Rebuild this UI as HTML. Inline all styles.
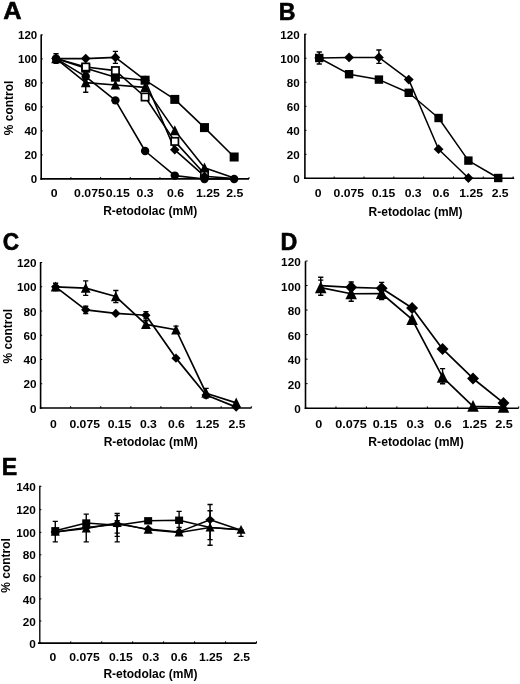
<!DOCTYPE html>
<html><head><meta charset="utf-8"><title>Figure</title>
<style>html,body{margin:0;padding:0;background:#fff}body{width:520px;height:684px;overflow:hidden}svg text{fill:#000}svg{will-change:transform;transform:translateZ(0)}</style>
</head><body>
<svg width="520" height="684" viewBox="0 0 520 684" style="display:block">
<rect width="520" height="684" fill="#fff"/>
<text transform="translate(3.15,19.15) scale(1.06,1)" font-size="24" text-anchor="start" font-family="Liberation Sans, Arial, sans-serif" font-weight="bold" stroke="#000" stroke-width="0.6" stroke-linejoin="round">A</text>
<path d="M41.20,34.40V179.70" stroke="#000" stroke-width="1.6" fill="none"/>
<path d="M40.40,178.90H249.00" stroke="#000" stroke-width="1.6" fill="none"/>
<path d="M70.89,177.10V178.90" stroke="#000" stroke-width="1"/>
<path d="M100.57,177.10V178.90" stroke="#000" stroke-width="1"/>
<path d="M130.26,177.10V178.90" stroke="#000" stroke-width="1"/>
<path d="M159.94,177.10V178.90" stroke="#000" stroke-width="1"/>
<path d="M189.63,177.10V178.90" stroke="#000" stroke-width="1"/>
<path d="M219.31,177.10V178.90" stroke="#000" stroke-width="1"/>
<path d="M249.00,177.10V178.90" stroke="#000" stroke-width="1"/>
<path d="M41.20,178.90H42.80" stroke="#000" stroke-width="1"/>
<text transform="translate(37.20,183.40) scale(1.02,1)" font-size="11.3" text-anchor="end" font-family="Liberation Sans, Arial, sans-serif" font-weight="bold" >0</text>
<path d="M41.20,154.90H42.80" stroke="#000" stroke-width="1"/>
<text transform="translate(37.20,159.40) scale(1.02,1)" font-size="11.3" text-anchor="end" font-family="Liberation Sans, Arial, sans-serif" font-weight="bold" >20</text>
<path d="M41.20,130.90H42.80" stroke="#000" stroke-width="1"/>
<text transform="translate(37.20,135.40) scale(1.02,1)" font-size="11.3" text-anchor="end" font-family="Liberation Sans, Arial, sans-serif" font-weight="bold" >40</text>
<path d="M41.20,106.90H42.80" stroke="#000" stroke-width="1"/>
<text transform="translate(37.20,111.40) scale(1.02,1)" font-size="11.3" text-anchor="end" font-family="Liberation Sans, Arial, sans-serif" font-weight="bold" >60</text>
<path d="M41.20,82.90H42.80" stroke="#000" stroke-width="1"/>
<text transform="translate(37.20,87.40) scale(1.02,1)" font-size="11.3" text-anchor="end" font-family="Liberation Sans, Arial, sans-serif" font-weight="bold" >80</text>
<path d="M41.20,58.90H42.80" stroke="#000" stroke-width="1"/>
<text transform="translate(37.20,63.40) scale(1.02,1)" font-size="11.3" text-anchor="end" font-family="Liberation Sans, Arial, sans-serif" font-weight="bold" >100</text>
<path d="M41.20,34.90H42.80" stroke="#000" stroke-width="1"/>
<text transform="translate(37.20,39.40) scale(1.02,1)" font-size="11.3" text-anchor="end" font-family="Liberation Sans, Arial, sans-serif" font-weight="bold" >120</text>
<text transform="translate(54.04,197.30) scale(1.06,1)" font-size="11.6" text-anchor="middle" font-family="Liberation Sans, Arial, sans-serif" font-weight="bold" >0</text>
<text transform="translate(89.43,197.30) scale(1.06,1)" font-size="11.6" text-anchor="middle" font-family="Liberation Sans, Arial, sans-serif" font-weight="bold" >0.075</text>
<text transform="translate(117.81,197.30) scale(1.06,1)" font-size="11.6" text-anchor="middle" font-family="Liberation Sans, Arial, sans-serif" font-weight="bold" >0.15</text>
<text transform="translate(145.10,197.30) scale(1.06,1)" font-size="11.6" text-anchor="middle" font-family="Liberation Sans, Arial, sans-serif" font-weight="bold" >0.3</text>
<text transform="translate(175.49,197.30) scale(1.06,1)" font-size="11.6" text-anchor="middle" font-family="Liberation Sans, Arial, sans-serif" font-weight="bold" >0.6</text>
<text transform="translate(207.97,197.30) scale(1.06,1)" font-size="11.6" text-anchor="middle" font-family="Liberation Sans, Arial, sans-serif" font-weight="bold" >1.25</text>
<text transform="translate(234.76,197.30) scale(1.06,1)" font-size="11.6" text-anchor="middle" font-family="Liberation Sans, Arial, sans-serif" font-weight="bold" >2.5</text>
<text transform="translate(150.20,215.20)" font-size="12" text-anchor="middle" font-family="Liberation Sans, Arial, sans-serif" font-weight="bold" >R-etodolac (mM)</text>
<text transform="translate(12.80,107.90) rotate(-90)" font-size="12" text-anchor="middle" font-family="Liberation Sans, Arial, sans-serif" font-weight="bold" >% control</text>
<polyline points="56.04,58.60 85.73,68.20 115.41,77.20 145.10,80.20 174.79,99.40 204.47,127.60 234.16,157.00" fill="none" stroke="#000" stroke-width="1.6" stroke-linejoin="round"/>
<polyline points="56.04,58.60 85.73,67.00 115.41,70.60 145.10,97.00 174.79,141.40 204.47,173.80" fill="none" stroke="#000" stroke-width="1.6" stroke-linejoin="round"/>
<polyline points="56.04,58.60 85.73,82.60 115.41,85.00 145.10,87.40 174.79,130.60 204.47,167.80 234.16,178.00" fill="none" stroke="#000" stroke-width="1.6" stroke-linejoin="round"/>
<polyline points="56.04,58.60 85.73,58.60 115.41,57.40 145.10,80.20 174.79,149.80 204.47,176.20 234.16,178.60" fill="none" stroke="#000" stroke-width="1.6" stroke-linejoin="round"/>
<polyline points="56.04,58.60 85.73,76.60 115.41,100.36 145.10,151.00 174.79,175.60 204.47,178.96 234.16,178.96" fill="none" stroke="#000" stroke-width="1.6" stroke-linejoin="round"/>
<path d="M85.73,73.00V92.20M83.13,73.00H88.33M83.13,92.20H88.33" stroke="#000" stroke-width="1.4" fill="none"/>
<path d="M56.04,53.80V63.40M53.44,53.80H58.64M53.44,63.40H58.64" stroke="#000" stroke-width="1.4" fill="none"/>
<path d="M115.41,51.40V63.40M112.81,51.40H118.01M112.81,63.40H118.01" stroke="#000" stroke-width="1.4" fill="none"/>
<rect x="81.23" y="63.70" width="9.00" height="9.00" fill="#000"/>
<rect x="110.91" y="72.70" width="9.00" height="9.00" fill="#000"/>
<rect x="140.60" y="75.70" width="9.00" height="9.00" fill="#000"/>
<rect x="170.29" y="94.90" width="9.00" height="9.00" fill="#000"/>
<rect x="199.97" y="123.10" width="9.00" height="9.00" fill="#000"/>
<rect x="229.66" y="152.50" width="9.00" height="9.00" fill="#000"/>
<rect x="82.08" y="63.35" width="7.30" height="7.30" fill="#fff" stroke="#000" stroke-width="1.7"/>
<rect x="111.76" y="66.95" width="7.30" height="7.30" fill="#fff" stroke="#000" stroke-width="1.7"/>
<rect x="141.45" y="93.35" width="7.30" height="7.30" fill="#fff" stroke="#000" stroke-width="1.7"/>
<rect x="171.14" y="137.75" width="7.30" height="7.30" fill="#fff" stroke="#000" stroke-width="1.7"/>
<rect x="200.82" y="170.15" width="7.30" height="7.30" fill="#fff" stroke="#000" stroke-width="1.7"/>
<polygon points="56.04,53.25 60.90,63.22 51.18,63.22" fill="#000"/>
<polygon points="85.73,77.25 90.59,87.22 80.87,87.22" fill="#000"/>
<polygon points="115.41,79.65 120.27,89.62 110.55,89.62" fill="#000"/>
<polygon points="145.10,82.05 149.96,92.02 140.24,92.02" fill="#000"/>
<polygon points="174.79,125.25 179.65,135.22 169.93,135.22" fill="#000"/>
<polygon points="204.47,162.45 209.33,172.42 199.61,172.42" fill="#000"/>
<polygon points="56.04,53.80 60.84,58.60 56.04,63.40 51.25,58.60" fill="#000"/>
<polygon points="85.73,53.80 90.53,58.60 85.73,63.40 80.93,58.60" fill="#000"/>
<polygon points="115.41,52.60 120.21,57.40 115.41,62.20 110.62,57.40" fill="#000"/>
<polygon points="145.10,75.40 149.90,80.20 145.10,85.00 140.30,80.20" fill="#000"/>
<polygon points="174.79,145.00 179.58,149.80 174.79,154.60 169.99,149.80" fill="#000"/>
<polygon points="204.47,171.40 209.27,176.20 204.47,181.00 199.67,176.20" fill="#000"/>
<circle cx="56.04" cy="58.60" r="4.21" fill="#000"/>
<circle cx="85.73" cy="76.60" r="4.21" fill="#000"/>
<circle cx="115.41" cy="100.36" r="4.21" fill="#000"/>
<circle cx="145.10" cy="151.00" r="4.21" fill="#000"/>
<circle cx="174.79" cy="175.60" r="4.21" fill="#000"/>
<circle cx="204.47" cy="178.96" r="4.21" fill="#000"/>
<circle cx="234.16" cy="178.96" r="4.21" fill="#000"/>
<text transform="translate(278.75,19.75) scale(0.965,1)" font-size="24" text-anchor="start" font-family="Liberation Sans, Arial, sans-serif" font-weight="bold" stroke="#000" stroke-width="0.6" stroke-linejoin="round">B</text>
<path d="M304.90,33.70V179.10" stroke="#000" stroke-width="1.6" fill="none"/>
<path d="M304.10,178.30H514.20" stroke="#000" stroke-width="1.6" fill="none"/>
<path d="M334.17,176.50V178.30" stroke="#000" stroke-width="1"/>
<path d="M364.00,176.50V178.30" stroke="#000" stroke-width="1"/>
<path d="M393.82,176.50V178.30" stroke="#000" stroke-width="1"/>
<path d="M423.65,176.50V178.30" stroke="#000" stroke-width="1"/>
<path d="M453.49,176.50V178.30" stroke="#000" stroke-width="1"/>
<path d="M483.31,176.50V178.30" stroke="#000" stroke-width="1"/>
<path d="M513.14,176.50V178.30" stroke="#000" stroke-width="1"/>
<path d="M304.90,178.30H306.50" stroke="#000" stroke-width="1"/>
<text transform="translate(299.60,183.30) scale(1.02,1)" font-size="11.4" text-anchor="end" font-family="Liberation Sans, Arial, sans-serif" font-weight="bold" >0</text>
<path d="M304.90,154.28H306.50" stroke="#000" stroke-width="1"/>
<text transform="translate(299.60,159.28) scale(1.02,1)" font-size="11.4" text-anchor="end" font-family="Liberation Sans, Arial, sans-serif" font-weight="bold" >20</text>
<path d="M304.90,130.27H306.50" stroke="#000" stroke-width="1"/>
<text transform="translate(299.60,135.27) scale(1.02,1)" font-size="11.4" text-anchor="end" font-family="Liberation Sans, Arial, sans-serif" font-weight="bold" >40</text>
<path d="M304.90,106.25H306.50" stroke="#000" stroke-width="1"/>
<text transform="translate(299.60,111.25) scale(1.02,1)" font-size="11.4" text-anchor="end" font-family="Liberation Sans, Arial, sans-serif" font-weight="bold" >60</text>
<path d="M304.90,82.23H306.50" stroke="#000" stroke-width="1"/>
<text transform="translate(299.60,87.23) scale(1.02,1)" font-size="11.4" text-anchor="end" font-family="Liberation Sans, Arial, sans-serif" font-weight="bold" >80</text>
<path d="M304.90,58.22H306.50" stroke="#000" stroke-width="1"/>
<text transform="translate(299.60,63.22) scale(1.02,1)" font-size="11.4" text-anchor="end" font-family="Liberation Sans, Arial, sans-serif" font-weight="bold" >100</text>
<path d="M304.90,34.20H306.50" stroke="#000" stroke-width="1"/>
<text transform="translate(299.60,39.20) scale(1.02,1)" font-size="11.4" text-anchor="end" font-family="Liberation Sans, Arial, sans-serif" font-weight="bold" >120</text>
<text transform="translate(318.05,197.00) scale(1.05,1)" font-size="11.6" text-anchor="middle" font-family="Liberation Sans, Arial, sans-serif" font-weight="bold" >0</text>
<text transform="translate(348.83,197.00) scale(1.05,1)" font-size="11.6" text-anchor="middle" font-family="Liberation Sans, Arial, sans-serif" font-weight="bold" >0.075</text>
<text transform="translate(383.51,197.00) scale(1.05,1)" font-size="11.6" text-anchor="middle" font-family="Liberation Sans, Arial, sans-serif" font-weight="bold" >0.15</text>
<text transform="translate(413.14,197.00) scale(1.05,1)" font-size="11.6" text-anchor="middle" font-family="Liberation Sans, Arial, sans-serif" font-weight="bold" >0.3</text>
<text transform="translate(440.97,197.00) scale(1.05,1)" font-size="11.6" text-anchor="middle" font-family="Liberation Sans, Arial, sans-serif" font-weight="bold" >0.6</text>
<text transform="translate(471.10,197.00) scale(1.05,1)" font-size="11.6" text-anchor="middle" font-family="Liberation Sans, Arial, sans-serif" font-weight="bold" >1.25</text>
<text transform="translate(500.18,197.00) scale(1.05,1)" font-size="11.6" text-anchor="middle" font-family="Liberation Sans, Arial, sans-serif" font-weight="bold" >2.5</text>
<text transform="translate(415.60,215.80)" font-size="12" text-anchor="middle" font-family="Liberation Sans, Arial, sans-serif" font-weight="bold" >R-etodolac (mM)</text>
<polyline points="319.25,58.00 349.08,57.40 378.91,57.40 408.74,79.60 438.57,149.20 468.40,178.00" fill="none" stroke="#000" stroke-width="1.5" stroke-linejoin="round"/>
<polyline points="319.25,58.00 349.08,74.20 378.91,79.60 408.74,92.80 438.57,118.00 468.40,160.60 498.23,178.00" fill="none" stroke="#000" stroke-width="1.5" stroke-linejoin="round"/>
<path d="M319.25,52.00V64.00M316.65,52.00H321.85M316.65,64.00H321.85" stroke="#000" stroke-width="1.4" fill="none"/>
<path d="M378.91,49.96V63.40M376.31,49.96H381.51M376.31,63.40H381.51" stroke="#000" stroke-width="1.4" fill="none"/>
<polygon points="319.25,53.09 324.16,58.00 319.25,62.91 314.34,58.00" fill="#000"/>
<polygon points="349.08,52.49 353.99,57.40 349.08,62.31 344.17,57.40" fill="#000"/>
<polygon points="378.91,52.49 383.82,57.40 378.91,62.31 374.00,57.40" fill="#000"/>
<polygon points="408.74,74.69 413.65,79.60 408.74,84.51 403.83,79.60" fill="#000"/>
<polygon points="438.57,144.29 443.48,149.20 438.57,154.11 433.66,149.20" fill="#000"/>
<polygon points="468.40,173.09 473.31,178.00 468.40,182.91 463.49,178.00" fill="#000"/>
<rect x="315.05" y="53.80" width="8.40" height="8.40" fill="#000"/>
<rect x="344.88" y="70.00" width="8.40" height="8.40" fill="#000"/>
<rect x="374.71" y="75.40" width="8.40" height="8.40" fill="#000"/>
<rect x="404.54" y="88.60" width="8.40" height="8.40" fill="#000"/>
<rect x="434.37" y="113.80" width="8.40" height="8.40" fill="#000"/>
<rect x="464.20" y="156.40" width="8.40" height="8.40" fill="#000"/>
<rect x="494.03" y="173.80" width="8.40" height="8.40" fill="#000"/>
<text transform="translate(2.70,250.10) scale(0.92,1)" font-size="24.6" text-anchor="start" font-family="Liberation Sans, Arial, sans-serif" font-weight="bold" stroke="#000" stroke-width="0.6" stroke-linejoin="round">C</text>
<path d="M40.60,262.00V408.80" stroke="#000" stroke-width="1.6" fill="none"/>
<path d="M39.80,408.00H251.50" stroke="#000" stroke-width="1.6" fill="none"/>
<path d="M70.65,406.20V408.00" stroke="#000" stroke-width="1"/>
<path d="M100.75,406.20V408.00" stroke="#000" stroke-width="1"/>
<path d="M130.85,406.20V408.00" stroke="#000" stroke-width="1"/>
<path d="M160.95,406.20V408.00" stroke="#000" stroke-width="1"/>
<path d="M191.05,406.20V408.00" stroke="#000" stroke-width="1"/>
<path d="M221.15,406.20V408.00" stroke="#000" stroke-width="1"/>
<path d="M251.25,406.20V408.00" stroke="#000" stroke-width="1"/>
<path d="M40.60,408.00H42.20" stroke="#000" stroke-width="1"/>
<text transform="translate(36.60,412.60) scale(1.03,1)" font-size="11.4" text-anchor="end" font-family="Liberation Sans, Arial, sans-serif" font-weight="bold" >0</text>
<path d="M40.60,383.75H42.20" stroke="#000" stroke-width="1"/>
<text transform="translate(36.60,388.35) scale(1.03,1)" font-size="11.4" text-anchor="end" font-family="Liberation Sans, Arial, sans-serif" font-weight="bold" >20</text>
<path d="M40.60,359.50H42.20" stroke="#000" stroke-width="1"/>
<text transform="translate(36.60,364.10) scale(1.03,1)" font-size="11.4" text-anchor="end" font-family="Liberation Sans, Arial, sans-serif" font-weight="bold" >40</text>
<path d="M40.60,335.25H42.20" stroke="#000" stroke-width="1"/>
<text transform="translate(36.60,339.85) scale(1.03,1)" font-size="11.4" text-anchor="end" font-family="Liberation Sans, Arial, sans-serif" font-weight="bold" >60</text>
<path d="M40.60,311.00H42.20" stroke="#000" stroke-width="1"/>
<text transform="translate(36.60,315.60) scale(1.03,1)" font-size="11.4" text-anchor="end" font-family="Liberation Sans, Arial, sans-serif" font-weight="bold" >80</text>
<path d="M40.60,286.75H42.20" stroke="#000" stroke-width="1"/>
<text transform="translate(36.60,291.35) scale(1.03,1)" font-size="11.4" text-anchor="end" font-family="Liberation Sans, Arial, sans-serif" font-weight="bold" >100</text>
<path d="M40.60,262.50H42.20" stroke="#000" stroke-width="1"/>
<text transform="translate(36.60,267.10) scale(1.03,1)" font-size="11.4" text-anchor="end" font-family="Liberation Sans, Arial, sans-serif" font-weight="bold" >120</text>
<text transform="translate(53.30,427.50) scale(1.05,1)" font-size="11.6" text-anchor="middle" font-family="Liberation Sans, Arial, sans-serif" font-weight="bold" >0</text>
<text transform="translate(84.70,427.50) scale(1.05,1)" font-size="11.6" text-anchor="middle" font-family="Liberation Sans, Arial, sans-serif" font-weight="bold" >0.075</text>
<text transform="translate(119.50,427.50) scale(1.05,1)" font-size="11.6" text-anchor="middle" font-family="Liberation Sans, Arial, sans-serif" font-weight="bold" >0.15</text>
<text transform="translate(148.40,427.50) scale(1.05,1)" font-size="11.6" text-anchor="middle" font-family="Liberation Sans, Arial, sans-serif" font-weight="bold" >0.3</text>
<text transform="translate(176.40,427.50) scale(1.05,1)" font-size="11.6" text-anchor="middle" font-family="Liberation Sans, Arial, sans-serif" font-weight="bold" >0.6</text>
<text transform="translate(207.50,427.50) scale(1.05,1)" font-size="11.6" text-anchor="middle" font-family="Liberation Sans, Arial, sans-serif" font-weight="bold" >1.25</text>
<text transform="translate(236.95,427.50) scale(1.05,1)" font-size="11.6" text-anchor="middle" font-family="Liberation Sans, Arial, sans-serif" font-weight="bold" >2.5</text>
<text transform="translate(150.70,446.30)" font-size="12" text-anchor="middle" font-family="Liberation Sans, Arial, sans-serif" font-weight="bold" >R-etodolac (mM)</text>
<text transform="translate(11.70,336.20) rotate(-90)" font-size="12" text-anchor="middle" font-family="Liberation Sans, Arial, sans-serif" font-weight="bold" >% control</text>
<polyline points="55.60,286.87 85.70,309.83 115.80,313.45 145.90,315.27 176.00,358.16 206.10,395.01 236.20,407.10" fill="none" stroke="#000" stroke-width="1.7" stroke-linejoin="round"/>
<polyline points="55.60,286.87 85.70,288.08 115.80,296.54 145.90,324.33 176.00,329.76 206.10,393.20 236.20,402.87" fill="none" stroke="#000" stroke-width="1.7" stroke-linejoin="round"/>
<path d="M85.70,306.20V313.45M83.10,306.20H88.30M83.10,313.45H88.30" stroke="#000" stroke-width="1.4" fill="none"/>
<path d="M145.90,311.64V318.89M143.30,311.64H148.50M143.30,318.89H148.50" stroke="#000" stroke-width="1.4" fill="none"/>
<path d="M55.60,283.25V290.49M53.00,283.25H58.20M53.00,290.49H58.20" stroke="#000" stroke-width="1.4" fill="none"/>
<path d="M85.70,280.83V295.33M83.10,280.83H88.30M83.10,295.33H88.30" stroke="#000" stroke-width="1.4" fill="none"/>
<path d="M115.80,290.49V302.58M113.20,290.49H118.40M113.20,302.58H118.40" stroke="#000" stroke-width="1.4" fill="none"/>
<path d="M145.90,320.70V327.95M143.30,320.70H148.50M143.30,327.95H148.50" stroke="#000" stroke-width="1.4" fill="none"/>
<path d="M176.00,326.14V333.39M173.40,326.14H178.60M173.40,333.39H178.60" stroke="#000" stroke-width="1.4" fill="none"/>
<path d="M206.10,388.37V398.03M203.50,388.37H208.70M203.50,398.03H208.70" stroke="#000" stroke-width="1.4" fill="none"/>
<polygon points="55.60,282.25 60.22,286.87 55.60,291.49 50.98,286.87" fill="#000"/>
<polygon points="85.70,305.21 90.32,309.83 85.70,314.45 81.08,309.83" fill="#000"/>
<polygon points="115.80,308.83 120.42,313.45 115.80,318.07 111.18,313.45" fill="#000"/>
<polygon points="145.90,310.64 150.52,315.27 145.90,319.89 141.28,315.27" fill="#000"/>
<polygon points="176.00,353.54 180.62,358.16 176.00,362.78 171.38,358.16" fill="#000"/>
<polygon points="206.10,390.39 210.72,395.01 206.10,399.63 201.48,395.01" fill="#000"/>
<polygon points="236.20,402.47 240.82,407.10 236.20,411.72 231.58,407.10" fill="#000"/>
<polygon points="55.60,281.52 60.46,291.49 50.74,291.49" fill="#000"/>
<polygon points="85.70,282.73 90.56,292.70 80.84,292.70" fill="#000"/>
<polygon points="115.80,291.19 120.66,301.15 110.94,301.15" fill="#000"/>
<polygon points="145.90,318.98 150.76,328.94 141.04,328.94" fill="#000"/>
<polygon points="176.00,324.42 180.86,334.38 171.14,334.38" fill="#000"/>
<polygon points="206.10,387.85 210.96,397.82 201.24,397.82" fill="#000"/>
<polygon points="236.20,397.52 241.06,407.48 231.34,407.48" fill="#000"/>
<text transform="translate(280.50,249.50) scale(0.95,1)" font-size="24.5" text-anchor="start" font-family="Liberation Sans, Arial, sans-serif" font-weight="bold" stroke="#000" stroke-width="0.6" stroke-linejoin="round">D</text>
<path d="M305.50,261.20V409.00" stroke="#000" stroke-width="1.6" fill="none"/>
<path d="M304.70,408.20H518.70" stroke="#000" stroke-width="1.6" fill="none"/>
<path d="M335.96,406.40V408.20" stroke="#000" stroke-width="1"/>
<path d="M366.41,406.40V408.20" stroke="#000" stroke-width="1"/>
<path d="M396.87,406.40V408.20" stroke="#000" stroke-width="1"/>
<path d="M427.33,406.40V408.20" stroke="#000" stroke-width="1"/>
<path d="M457.79,406.40V408.20" stroke="#000" stroke-width="1"/>
<path d="M488.24,406.40V408.20" stroke="#000" stroke-width="1"/>
<path d="M518.70,406.40V408.20" stroke="#000" stroke-width="1"/>
<path d="M305.50,408.20H307.60" stroke="#000" stroke-width="1"/>
<text transform="translate(300.70,413.20) scale(1.03,1)" font-size="11.4" text-anchor="end" font-family="Liberation Sans, Arial, sans-serif" font-weight="bold" >0</text>
<path d="M305.50,383.67H307.60" stroke="#000" stroke-width="1"/>
<text transform="translate(300.70,388.67) scale(1.03,1)" font-size="11.4" text-anchor="end" font-family="Liberation Sans, Arial, sans-serif" font-weight="bold" >20</text>
<path d="M305.50,359.13H307.60" stroke="#000" stroke-width="1"/>
<text transform="translate(300.70,364.13) scale(1.03,1)" font-size="11.4" text-anchor="end" font-family="Liberation Sans, Arial, sans-serif" font-weight="bold" >40</text>
<path d="M305.50,334.60H307.60" stroke="#000" stroke-width="1"/>
<text transform="translate(300.70,339.60) scale(1.03,1)" font-size="11.4" text-anchor="end" font-family="Liberation Sans, Arial, sans-serif" font-weight="bold" >60</text>
<path d="M305.50,310.07H307.60" stroke="#000" stroke-width="1"/>
<text transform="translate(300.70,315.07) scale(1.03,1)" font-size="11.4" text-anchor="end" font-family="Liberation Sans, Arial, sans-serif" font-weight="bold" >80</text>
<path d="M305.50,285.53H307.60" stroke="#000" stroke-width="1"/>
<text transform="translate(300.70,290.53) scale(1.03,1)" font-size="11.4" text-anchor="end" font-family="Liberation Sans, Arial, sans-serif" font-weight="bold" >100</text>
<path d="M305.50,261.00H307.60" stroke="#000" stroke-width="1"/>
<text transform="translate(300.70,266.00) scale(1.03,1)" font-size="11.4" text-anchor="end" font-family="Liberation Sans, Arial, sans-serif" font-weight="bold" >120</text>
<text transform="translate(318.73,427.60) scale(1.09,1)" font-size="11.6" text-anchor="middle" font-family="Liberation Sans, Arial, sans-serif" font-weight="bold" >0</text>
<text transform="translate(351.09,427.60) scale(1.09,1)" font-size="11.6" text-anchor="middle" font-family="Liberation Sans, Arial, sans-serif" font-weight="bold" >0.075</text>
<text transform="translate(385.04,427.60) scale(1.09,1)" font-size="11.6" text-anchor="middle" font-family="Liberation Sans, Arial, sans-serif" font-weight="bold" >0.15</text>
<text transform="translate(415.30,427.60) scale(1.09,1)" font-size="11.6" text-anchor="middle" font-family="Liberation Sans, Arial, sans-serif" font-weight="bold" >0.3</text>
<text transform="translate(442.91,427.60) scale(1.09,1)" font-size="11.6" text-anchor="middle" font-family="Liberation Sans, Arial, sans-serif" font-weight="bold" >0.6</text>
<text transform="translate(474.61,427.60) scale(1.09,1)" font-size="11.6" text-anchor="middle" font-family="Liberation Sans, Arial, sans-serif" font-weight="bold" >1.25</text>
<text transform="translate(504.07,427.60) scale(1.09,1)" font-size="11.6" text-anchor="middle" font-family="Liberation Sans, Arial, sans-serif" font-weight="bold" >2.5</text>
<text transform="translate(416.00,446.00) scale(1.016,1)" font-size="12" text-anchor="middle" font-family="Liberation Sans, Arial, sans-serif" font-weight="bold" >R-etodolac (mM)</text>
<polyline points="320.73,285.60 351.19,287.28 381.64,288.24 412.10,308.04 442.56,348.96 473.01,378.48 503.47,402.96" fill="none" stroke="#000" stroke-width="1.7" stroke-linejoin="round"/>
<polyline points="320.73,287.64 351.19,293.76 381.64,293.52 412.10,319.44 442.56,377.16 473.01,406.32 503.47,407.16" fill="none" stroke="#000" stroke-width="1.7" stroke-linejoin="round"/>
<path d="M320.73,277.32V288.00M318.13,277.32H323.33M318.13,288.00H323.33" stroke="#000" stroke-width="1.4" fill="none"/>
<path d="M351.19,282.00V294.00M348.59,282.00H353.79M348.59,294.00H353.79" stroke="#000" stroke-width="1.4" fill="none"/>
<path d="M381.64,282.36V294.00M379.04,282.36H384.24M379.04,294.00H384.24" stroke="#000" stroke-width="1.4" fill="none"/>
<path d="M320.73,280.08V295.32M318.13,280.08H323.33M318.13,295.32H323.33" stroke="#000" stroke-width="1.4" fill="none"/>
<path d="M351.19,284.40V301.32M348.59,284.40H353.79M348.59,301.32H353.79" stroke="#000" stroke-width="1.4" fill="none"/>
<path d="M381.64,286.80V299.64M379.04,286.80H384.24M379.04,299.64H384.24" stroke="#000" stroke-width="1.4" fill="none"/>
<path d="M442.56,368.64V383.76M439.96,368.64H445.16M439.96,383.76H445.16" stroke="#000" stroke-width="1.4" fill="none"/>
<polygon points="351.19,281.31 357.15,287.28 351.19,293.25 345.22,287.28" fill="#000"/>
<polygon points="381.64,282.27 387.61,288.24 381.64,294.21 375.68,288.24" fill="#000"/>
<polygon points="412.10,302.07 418.07,308.04 412.10,314.01 406.13,308.04" fill="#000"/>
<polygon points="442.56,342.99 448.52,348.96 442.56,354.93 436.59,348.96" fill="#000"/>
<polygon points="473.01,372.51 478.98,378.48 473.01,384.45 467.05,378.48" fill="#000"/>
<polygon points="503.47,396.99 509.44,402.96 503.47,408.93 497.50,402.96" fill="#000"/>
<polygon points="320.73,281.28 326.51,293.13 314.95,293.13" fill="#000"/>
<polygon points="351.19,287.40 356.96,299.25 345.41,299.25" fill="#000"/>
<polygon points="381.64,287.16 387.42,299.01 375.86,299.01" fill="#000"/>
<polygon points="412.10,313.08 417.88,324.93 406.32,324.93" fill="#000"/>
<polygon points="442.56,370.80 448.34,382.65 436.78,382.65" fill="#000"/>
<polygon points="473.01,399.96 478.79,411.81 467.24,411.81" fill="#000"/>
<polygon points="503.47,400.80 509.25,412.65 497.69,412.65" fill="#000"/>
<text transform="translate(1.75,475.40) scale(0.95,1)" font-size="24.4" text-anchor="start" font-family="Liberation Sans, Arial, sans-serif" font-weight="bold" stroke="#000" stroke-width="0.6" stroke-linejoin="round">E</text>
<path d="M39.80,485.80V643.98" stroke="#000" stroke-width="1.35" fill="none"/>
<path d="M37.92,643.10H256.50" stroke="#000" stroke-width="1.75" fill="none"/>
<path d="M70.76,641.30V643.10" stroke="#000" stroke-width="1"/>
<path d="M101.71,641.30V643.10" stroke="#000" stroke-width="1"/>
<path d="M132.67,641.30V643.10" stroke="#000" stroke-width="1"/>
<path d="M163.63,641.30V643.10" stroke="#000" stroke-width="1"/>
<path d="M194.59,641.30V643.10" stroke="#000" stroke-width="1"/>
<path d="M225.54,641.30V643.10" stroke="#000" stroke-width="1"/>
<path d="M256.50,641.30V643.10" stroke="#000" stroke-width="1"/>
<path d="M39.80,643.10H41.40" stroke="#000" stroke-width="1"/>
<text transform="translate(35.80,648.30) scale(1.035,1)" font-size="11.4" text-anchor="end" font-family="Liberation Sans, Arial, sans-serif" font-weight="bold" >0</text>
<path d="M39.80,621.00H41.40" stroke="#000" stroke-width="1"/>
<text transform="translate(35.80,626.20) scale(1.035,1)" font-size="11.4" text-anchor="end" font-family="Liberation Sans, Arial, sans-serif" font-weight="bold" >20</text>
<path d="M39.80,598.90H41.40" stroke="#000" stroke-width="1"/>
<text transform="translate(35.80,604.10) scale(1.035,1)" font-size="11.4" text-anchor="end" font-family="Liberation Sans, Arial, sans-serif" font-weight="bold" >40</text>
<path d="M39.80,576.80H41.40" stroke="#000" stroke-width="1"/>
<text transform="translate(35.80,581.50) scale(1.035,1)" font-size="11.4" text-anchor="end" font-family="Liberation Sans, Arial, sans-serif" font-weight="bold" >60</text>
<path d="M39.80,554.80H41.40" stroke="#000" stroke-width="1"/>
<text transform="translate(35.80,559.30) scale(1.035,1)" font-size="11.4" text-anchor="end" font-family="Liberation Sans, Arial, sans-serif" font-weight="bold" >80</text>
<path d="M39.80,532.40H41.40" stroke="#000" stroke-width="1"/>
<text transform="translate(35.80,536.50) scale(1.035,1)" font-size="11.4" text-anchor="end" font-family="Liberation Sans, Arial, sans-serif" font-weight="bold" >100</text>
<path d="M39.80,509.70H41.40" stroke="#000" stroke-width="1"/>
<text transform="translate(35.80,514.30) scale(1.035,1)" font-size="11.4" text-anchor="end" font-family="Liberation Sans, Arial, sans-serif" font-weight="bold" >120</text>
<path d="M39.80,486.30H41.40" stroke="#000" stroke-width="1"/>
<text transform="translate(35.80,491.20) scale(1.035,1)" font-size="11.4" text-anchor="end" font-family="Liberation Sans, Arial, sans-serif" font-weight="bold" >140</text>
<text transform="translate(52.78,661.20) scale(1.05,1)" font-size="11.6" text-anchor="middle" font-family="Liberation Sans, Arial, sans-serif" font-weight="bold" >0</text>
<text transform="translate(84.49,661.20) scale(1.05,1)" font-size="11.6" text-anchor="middle" font-family="Liberation Sans, Arial, sans-serif" font-weight="bold" >0.075</text>
<text transform="translate(120.94,661.20) scale(1.05,1)" font-size="11.6" text-anchor="middle" font-family="Liberation Sans, Arial, sans-serif" font-weight="bold" >0.15</text>
<text transform="translate(150.70,661.20) scale(1.05,1)" font-size="11.6" text-anchor="middle" font-family="Liberation Sans, Arial, sans-serif" font-weight="bold" >0.3</text>
<text transform="translate(179.11,661.20) scale(1.05,1)" font-size="11.6" text-anchor="middle" font-family="Liberation Sans, Arial, sans-serif" font-weight="bold" >0.6</text>
<text transform="translate(210.81,661.20) scale(1.05,1)" font-size="11.6" text-anchor="middle" font-family="Liberation Sans, Arial, sans-serif" font-weight="bold" >1.25</text>
<text transform="translate(241.62,661.20) scale(1.05,1)" font-size="11.6" text-anchor="middle" font-family="Liberation Sans, Arial, sans-serif" font-weight="bold" >2.5</text>
<text transform="translate(150.40,678.40)" font-size="12" text-anchor="middle" font-family="Liberation Sans, Arial, sans-serif" font-weight="bold" >R-etodolac (mM)</text>
<text transform="translate(10.45,565.40) rotate(-90)" font-size="12" text-anchor="middle" font-family="Liberation Sans, Arial, sans-serif" font-weight="bold" >% control</text>
<polyline points="55.28,530.79 86.24,523.02 117.19,525.24 148.15,520.80 179.11,520.25 210.06,527.46 241.02,529.68" fill="none" stroke="#000" stroke-width="1.5" stroke-linejoin="round"/>
<polyline points="55.28,531.90 86.24,527.46 117.19,524.13 148.15,529.12 179.11,531.90 210.06,519.69 241.02,530.24" fill="none" stroke="#000" stroke-width="1.5" stroke-linejoin="round"/>
<polyline points="55.28,531.90 86.24,528.57 117.19,523.02 148.15,529.68 179.11,532.45 210.06,527.46 241.02,529.68" fill="none" stroke="#000" stroke-width="1.5" stroke-linejoin="round"/>
<path d="M55.28,521.36V541.89M52.68,521.36H57.88M52.68,541.89H57.88" stroke="#000" stroke-width="1.4" fill="none"/>
<path d="M86.24,514.14V541.89M83.64,514.14H88.84M83.64,541.89H88.84" stroke="#000" stroke-width="1.4" fill="none"/>
<path d="M117.19,513.47V536.34M114.59,513.47H119.79M114.59,536.34H119.79" stroke="#000" stroke-width="1.4" fill="none"/>
<path d="M179.11,511.36V527.46M176.51,511.36H181.71M176.51,527.46H181.71" stroke="#000" stroke-width="1.4" fill="none"/>
<path d="M117.19,515.58V533.12M114.59,515.58H119.79M114.59,533.12H119.79" stroke="#000" stroke-width="1.4" fill="none"/>
<path d="M210.06,510.81V539.67M207.46,510.81H212.66M207.46,539.67H212.66" stroke="#000" stroke-width="1.4" fill="none"/>
<path d="M117.19,520.80V541.89M114.59,520.80H119.79M114.59,541.89H119.79" stroke="#000" stroke-width="1.4" fill="none"/>
<path d="M210.06,504.48V545.22M207.46,504.48H212.66M207.46,545.22H212.66" stroke="#000" stroke-width="1.4" fill="none"/>
<path d="M241.02,529.68V536.34M238.42,529.68H243.62M238.42,536.34H243.62" stroke="#000" stroke-width="1.4" fill="none"/>
<rect x="51.28" y="527.11" width="8.00" height="7.36" fill="#000"/>
<rect x="82.24" y="519.34" width="8.00" height="7.36" fill="#000"/>
<rect x="144.15" y="517.12" width="8.00" height="7.36" fill="#000"/>
<rect x="175.11" y="516.57" width="8.00" height="7.36" fill="#000"/>
<polygon points="55.28,527.59 59.96,531.90 55.28,536.21 50.60,531.90" fill="#000"/>
<polygon points="86.24,523.15 90.92,527.46 86.24,531.77 81.56,527.46" fill="#000"/>
<polygon points="117.19,519.82 121.87,524.13 117.19,528.44 112.51,524.13" fill="#000"/>
<polygon points="148.15,524.82 152.83,529.12 148.15,533.43 143.47,529.12" fill="#000"/>
<polygon points="179.11,527.59 183.79,531.90 179.11,536.21 174.43,531.90" fill="#000"/>
<polygon points="210.06,515.38 214.74,519.69 210.06,524.00 205.38,519.69" fill="#000"/>
<polygon points="55.28,527.31 59.81,535.86 50.74,535.86" fill="#000"/>
<polygon points="86.24,523.98 90.77,532.53 81.70,532.53" fill="#000"/>
<polygon points="117.19,518.43 121.73,526.98 112.66,526.98" fill="#000"/>
<polygon points="148.15,525.09 152.69,533.64 143.61,533.64" fill="#000"/>
<polygon points="179.11,527.86 183.64,536.42 174.57,536.42" fill="#000"/>
<polygon points="210.06,522.87 214.60,531.42 205.53,531.42" fill="#000"/>
<polygon points="241.02,525.09 245.56,533.64 236.49,533.64" fill="#000"/>
</svg>
</body></html>
